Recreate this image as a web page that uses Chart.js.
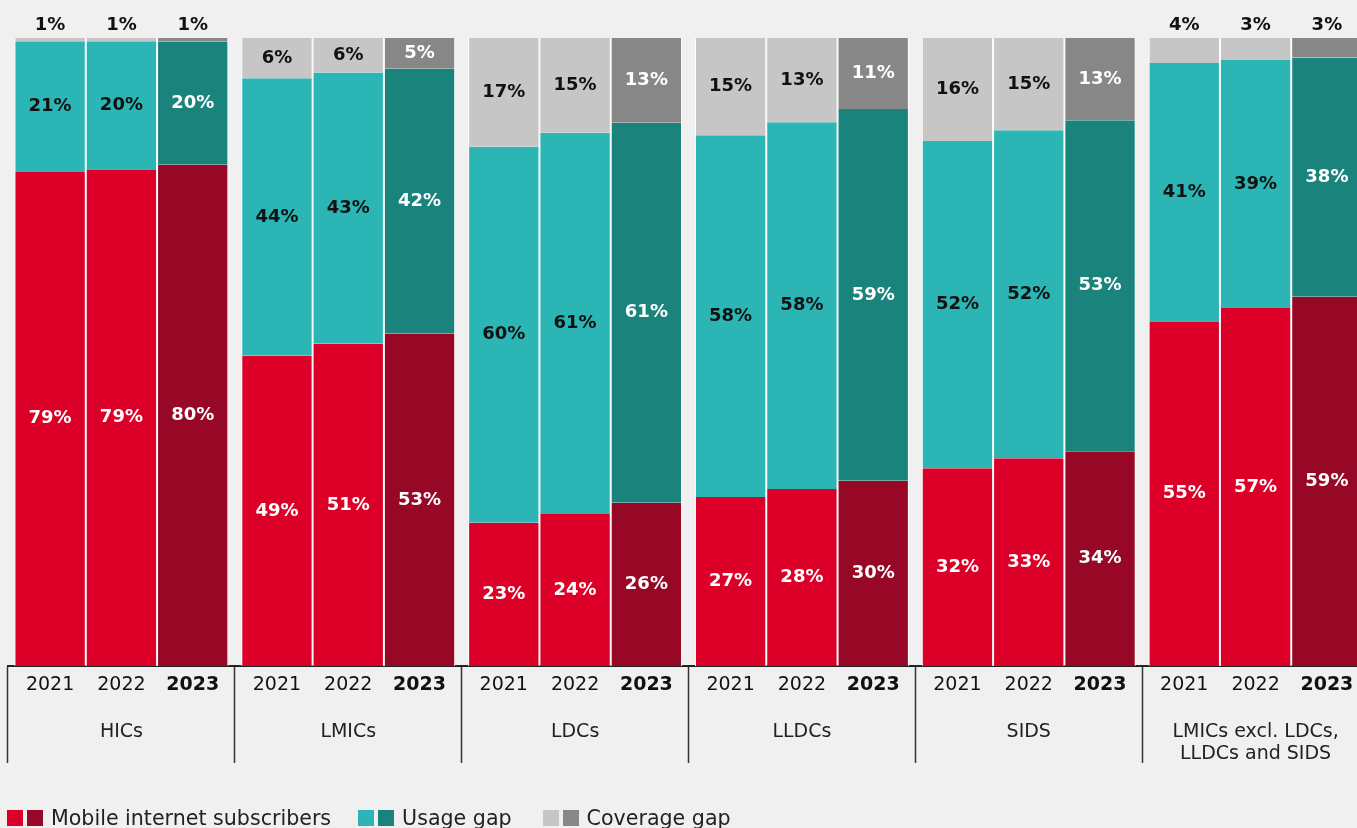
<!DOCTYPE html>
<html>
<head>
<meta charset="utf-8">
<script src="https://cdn.jsdelivr.net/npm/chart.js@4.4.1/dist/chart.umd.min.js"></script>
<style>
    html, body { margin: 0; padding: 0; background: #f0f0f0; overflow: hidden; }
    #wrap { position: absolute; left: 0; top: 0; width: 1375px; height: 828px; }
    #legend {
        position: absolute; left: 7px; top: 806px;
        display: flex; align-items: center;
        font-family: 'DejaVu Sans', sans-serif; font-size: 20.6px; color: #222;
    }
    .item { display: flex; align-items: center; margin-right: 27px; }
    .item.wide { margin-right: 31px; }
    .sw { width: 16px; height: 16px; margin-right: 4px; }
    .item span.txt { margin-left: 4px; }
</style>
</head>
<body>
<div id="wrap"><canvas id="chart" width="1375" height="828"></canvas></div>
<div id="legend">
    <div class="item"><div class="sw" style="background:#dc0029"></div><div class="sw" style="background:#970826"></div><span class="txt">Mobile internet subscribers</span></div>
    <div class="item wide"><div class="sw" style="background:#2bb5b5"></div><div class="sw" style="background:#1a847c"></div><span class="txt">Usage gap</span></div>
    <div class="item"><div class="sw" style="background:#c6c6c6"></div><div class="sw" style="background:#878787"></div><span class="txt">Coverage gap</span></div>
</div>
<script>
const groups = ['HICs', 'LMICs', 'LDCs', 'LLDCs', 'SIDS', ['LMICs excl. LDCs,', 'LLDCs and SIDS']]
const years  = ['2021', '2022', '2023']

// segment heights (per group: 2021, 2022, 2023)
const subscribers = [[78.8, 79.1, 79.8], [49.4, 51.3, 52.9], [22.8, 24.2, 26.0], [26.9, 28.2, 29.5], [31.5, 33.1, 34.2], [54.9, 57.0, 58.8]]
const usageGap    = [[20.7, 20.4, 19.6], [44.2, 43.2, 42.2], [59.9, 60.7, 60.5], [57.6, 58.4, 59.2], [52.1, 52.2, 52.7], [41.1, 39.5, 38.1]]
const coverageGap = [[0.5, 0.5, 0.6], [6.4, 5.5, 4.9], [17.3, 15.1, 13.5], [15.5, 13.4, 11.3], [16.4, 14.7, 13.1], [4.0, 3.5, 3.1]]

// printed percentages
const subscribersLabels = [[79, 79, 80], [49, 51, 53], [23, 24, 26], [27, 28, 30], [32, 33, 34], [55, 57, 59]]
const usageLabels       = [[21, 20, 20], [44, 43, 42], [60, 61, 61], [58, 58, 59], [52, 52, 53], [41, 39, 38]]
const coverageLabels    = [[1, 1, 1], [6, 6, 5], [17, 15, 13], [15, 13, 11], [16, 15, 13], [4, 3, 3]]

const FONT = "'DejaVu Sans', sans-serif"

const series = [
    { name: 'Mobile internet subscribers', values: subscribers, printed: subscribersLabels,
      colors: ['#dc0029', '#dc0029', '#970826'], text: ['#fff', '#fff', '#fff'] },
    { name: 'Usage gap', values: usageGap, printed: usageLabels,
      colors: ['#2bb5b5', '#2bb5b5', '#1a847c'], text: ['#111', '#111', '#fff'] },
    { name: 'Coverage gap', values: coverageGap, printed: coverageLabels,
      colors: ['#c6c6c6', '#c6c6c6', '#878787'], text: ['#111', '#111', '#fff'] }
]

const datasets = []
years.forEach((yr, k) => {
    series.forEach(s => {
        datasets.push({
            label: s.name + ' ' + yr,
            data: s.values.map(g => g[k]),
            printed: s.printed.map(g => g[k]),
            textColor: s.text[k],
            backgroundColor: s.colors[k],
            borderColor: '#ffffff',
            borderWidth: { left: 1, right: 1, top: 0, bottom: 0 },
            borderSkipped: false,
            stack: yr,
            categoryPercentage: 0.943,
            barPercentage: 1
        })
    })
})

const labelsPlugin = {
    id: 'barLabels',
    afterDatasetsDraw(chart) {
        const c = chart.ctx
        c.save()
        c.textAlign = 'center'
        c.textBaseline = 'middle'
        c.font = 'bold 18px ' + FONT
        chart.data.datasets.forEach((ds, i) => {
            chart.getDatasetMeta(i).data.forEach((bar, j) => {
                const v = ds.printed[j]
                const above = v < 5
                c.fillStyle = above ? '#111' : ds.textColor
                const y = above ? bar.y - 13 : (bar.y + bar.base) / 2
                c.fillText(v + '%', bar.x, y)
            })
        })

        // year labels under each bar, group names below them
        const bottom = chart.chartArea.bottom
        years.forEach((yr, k) => {
            c.font = (k === 2 ? 'bold ' : '') + '19px ' + FONT
            c.fillStyle = '#111'
            chart.getDatasetMeta(k * 3).data.forEach(bar => {
                c.fillText(yr, bar.x, bottom + 19)
            })
        })
        c.font = '19px ' + FONT
        c.fillStyle = '#222'
        const xs = chart.scales.x
        groups.forEach((g, j) => {
            const lines = Array.isArray(g) ? g : [g]
            lines.forEach((ln, n) => c.fillText(ln, xs.getPixelForValue(j), bottom + 66 + n * 22))
        })
        c.restore()
    }
}

new Chart(document.getElementById('chart'), {
    type: 'bar',
    data: { labels: groups, datasets },
    options: {
        responsive: false,
        animation: false,
        layout: { padding: { left: 8, right: 6, top: 38, bottom: 65 } },
        plugins: { legend: { display: false }, tooltip: { enabled: false } },
        scales: {
            x: {
                stacked: true,
                offset: true,
                grid: {
                    display: true, offset: true, drawOnChartArea: false,
                    drawTicks: true, tickLength: 97, tickColor: '#333', tickWidth: 1.5
                },
                border: { display: true, color: '#222', width: 2 },
                ticks: { display: false }
            },
            y: { stacked: true, display: false, min: 0, max: 100 }
        }
    },
    plugins: [labelsPlugin]
})
</script>
</body>
</html>
